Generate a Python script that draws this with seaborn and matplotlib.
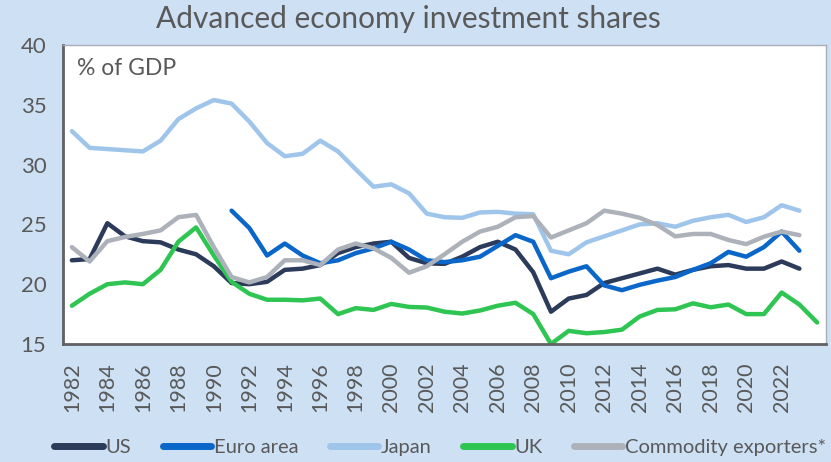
import numpy as np
import pandas as pd
import matplotlib
matplotlib.use("Agg")
import matplotlib.pyplot as plt
import seaborn as sns
from matplotlib.lines import Line2D

years = list(range(1982, 2025))

us = [22.0, 22.1, 25.1, 24.0, 23.6, 23.5, 22.9, 22.5, 21.5, 20.1,
      20.0, 20.2, 21.2, 21.3, 21.6, 22.6, 23.1, 23.4, 23.55, 22.2,
      21.75, 21.7, 22.3, 23.1, 23.55, 22.9, 21.0, 17.7, 18.8, 19.1,
      20.1, 20.5, 20.9, 21.3, 20.8, 21.2, 21.5, 21.6, 21.3, 21.3,
      21.9, 21.3, np.nan]
euro = [np.nan] * 9 + [26.15, 24.7, 22.4, 23.4, 22.4, 21.75, 22.0, 22.6, 23.0, 23.55, 22.9,
       22.0, 21.85, 22.0, 22.3, 23.2, 24.1, 23.55, 20.5, 21.05, 21.5,
       19.9, 19.5, 19.95, 20.3, 20.6, 21.2, 21.75, 22.7, 22.3, 23.1,
       24.4, 22.8, np.nan]
japan = [32.8, 31.4, 31.3, 31.2, 31.1, 32.0, 33.8, 34.7, 35.4, 35.1,
         33.6, 31.8, 30.7, 30.9, 32.0, 31.1, 29.6, 28.15, 28.35, 27.6,
         25.9, 25.6, 25.55, 26.0, 26.05, 25.9, 25.85, 22.8, 22.5, 23.5,
         24.0, 24.5, 25.0, 25.1, 24.8, 25.3, 25.6, 25.8, 25.2, 25.6,
         26.6, 26.15, np.nan]
uk = [18.2, 19.2, 20.0, 20.15, 20.0, 21.2, 23.55, 24.75, 22.4, 20.2,
      19.2, 18.7, 18.7, 18.65, 18.8, 17.5, 18.0, 17.85, 18.35, 18.1,
      18.05, 17.7, 17.55, 17.8, 18.2, 18.45, 17.5, 15.0, 16.1, 15.9,
      16.0, 16.2, 17.3, 17.85, 17.9, 18.4, 18.07, 18.3, 17.5, 17.5,
      19.3, 18.3, 16.8]
commodity = [23.1, 21.9, 23.6, 23.95, 24.2, 24.5, 25.6, 25.8, 23.1, 20.6,
             20.15, 20.6, 22.0, 22.0, 21.6, 22.9, 23.4, 23.0, 22.2, 20.96,
             21.5, 22.5, 23.55, 24.4, 24.8, 25.6, 25.7, 23.9, 24.5, 25.1,
             26.15, 25.9, 25.55, 24.95, 24.0, 24.2, 24.2, 23.7, 23.35, 23.97,
             24.4, 24.1, np.nan]

series_names = ["US", "Euro area", "Japan", "UK", "Commodity exporters*"]
series_values = [us, euro, japan, uk, commodity]
colors = ["#2c3b5a", "#0a67c9", "#9fc5eb", "#2fc552", "#adb1ba"]

rows = []
for name, vals in zip(series_names, series_values):
    for i, v in enumerate(vals):
        rows.append({"pos": i, "year": years[i], "series": name, "value": v})
df = pd.DataFrame(rows)

sns.set_theme(style="white")
plt.rcParams["font.family"] = ["Lato", "DejaVu Sans"]

bg = "#cde0f4"
txt = "#595959"
fig = plt.figure(figsize=(8.31, 4.62), dpi=100, facecolor=bg)
ax = fig.add_axes([0.0758, 0.2554, 0.9182, 0.6472])
ax.set_facecolor("white")

sns.lineplot(data=df, x="pos", y="value", hue="series", hue_order=series_names,
             palette=colors, linewidth=3.2, ax=ax, legend=False, sort=False)

ax.set_xlim(-0.5, len(years) - 0.5)
ax.set_ylim(15, 40)
ax.set_yticks([15, 20, 25, 30, 35, 40])
ax.set_yticklabels(["15", "20", "25", "30", "35", "40"], fontsize=16, color=txt)
tick_pos = list(range(0, len(years) - 1, 2))
ax.set_xticks(tick_pos)
ax.set_xticklabels([str(years[i]) for i in tick_pos], rotation=90, fontsize=15.5,
                   color=txt)
ax.tick_params(axis="y", length=0, pad=12)
ax.tick_params(axis="x", length=0, pad=13)
ax.set_xlabel("")
ax.set_ylabel("")

for side in ["left", "bottom"]:
    ax.spines[side].set_color("#606060")
    ax.spines[side].set_linewidth(2)
for side in ["top", "right"]:
    ax.spines[side].set_color("#a8adb8")
    ax.spines[side].set_linewidth(1)

ax.text(0.018, 0.92, "% of GDP", transform=ax.transAxes, fontsize=16.5,
        color=txt, va="center", ha="left")

fig.text(0.492, 0.958, "Advanced economy investment shares", ha="center",
         va="center", fontsize=21.5, color=txt)

handles = [Line2D([0], [0], color=c, linewidth=5, solid_capstyle="round") for c in colors]
leg = fig.legend(handles, series_names, loc="center", bbox_to_anchor=(0.53, 0.032),
                 ncol=5, frameon=False, handlelength=2.4,
                 handletextpad=0.15, columnspacing=1.55, borderpad=0.1,
                 prop={"family": ["Lato", "DejaVu Sans"], "size": 14.5})
for t in leg.get_texts():
    t.set_color(txt)

fig.savefig("out.png", dpi=100, facecolor=bg)
